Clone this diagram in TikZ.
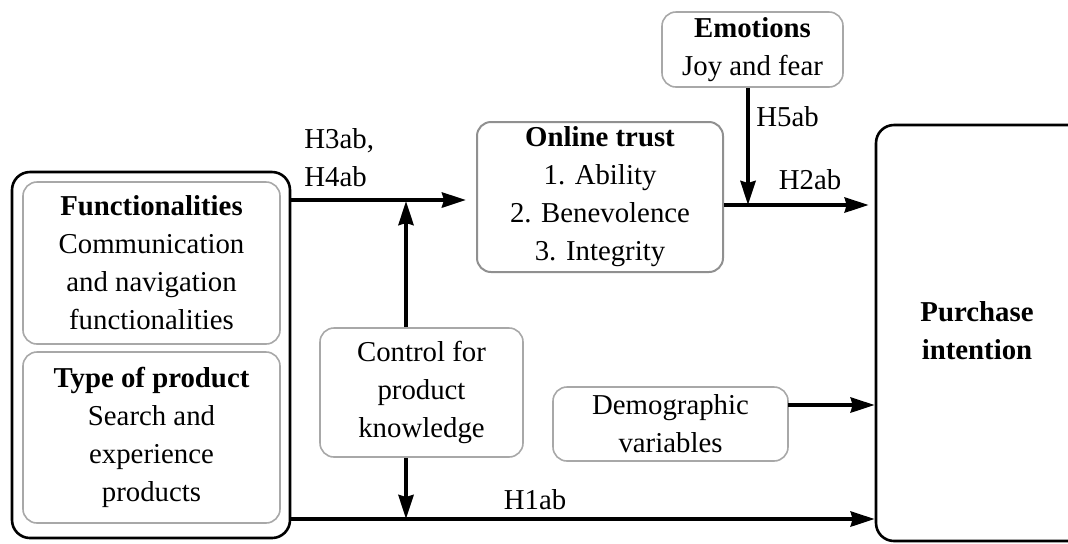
\documentclass[tikz,border=0pt]{standalone}
\usepackage{fontspec}
\setmainfont{Liberation Serif}
\usetikzlibrary{arrows.meta}
\definecolor{boxgray}{HTML}{A8A8A8}
\definecolor{trustgray}{HTML}{909090}
\begin{document}
\begin{tikzpicture}[x=0.5pt,y=-0.5pt,font=\fontsize{14.4}{19}\selectfont,
  box/.style={draw=boxgray,line width=0.8pt,rounded corners=7pt,align=center,inner sep=0pt},
  mainbox/.style={draw=black,line width=1.3pt,rounded corners=9pt,inner sep=0pt},
  arr/.style={line width=2pt,-{Stealth[length=12pt,width=7.5pt,inset=1pt]}}]
  \useasboundingbox (0,0) rectangle (1068,543);
  % boxes
  \node[mainbox,minimum width=139pt,minimum height=183pt] (inputs) at (151,355) {};
  \node[box,minimum width=128.5pt,minimum height=81pt] (func) at (151.5,263)
    {\textbf{Functionalities}\\Communication\\and navigation\\functionalities};
  \node[box,minimum width=128.5pt,minimum height=85.5pt] (prod) at (151.5,437.5)
    {\textbf{Type of product}\\Search and\\experience\\products};
  \node[box,draw=trustgray,line width=1pt,minimum width=123pt,minimum height=75pt] (trust) at (600,197)
    {\textbf{Online trust}\\1. Ability\\2. Benevolence\\3. Integrity};
  \node[box,minimum width=90.5pt,minimum height=37.5pt] (emo) at (752.5,49.5)
    {\textbf{Emotions}\\Joy and fear};
  \node[box,minimum width=101.5pt,minimum height=64.5pt] (ctrl) at (421.5,392.5)
    {Control for\\product\\knowledge};
  \node[box,minimum width=117.5pt,minimum height=37pt] (demo) at (670.5,424)
    {Demographic\\variables};
  \node[mainbox,minimum width=130pt,minimum height=208pt] (purch) at (1006,333) {};
  \node[align=center,font=\fontsize{14.4}{19}\selectfont\bfseries] (purchtxt) at (977,331) {Purchase\\intention};
  % junctions
  \coordinate (h3) at (466,200);
  \coordinate (ctrlup) at (406,201);
  \coordinate (ctrldn) at (406,519);
  \coordinate (h2) at (748,205);
  \coordinate (dm) at (788,405);
  % connectors
  \draw[arr] (inputs.east |- h3) -- (h3);
  \draw[arr] (ctrlup |- ctrl.north) -- (ctrlup);
  \draw[arr] (ctrldn |- ctrl.south) -- (ctrldn);
  \draw[arr] (inputs.east |- ctrldn) -- (purch.west |- ctrldn);
  \draw[arr,shorten >=3pt] (trust.east |- h2) -- (purch.west |- h2);
  \draw[arr] (emo.south -| h2) -- (h2);
  \draw[arr] (dm) -- (purch.west |- dm);
  % labels
  \node[anchor=west,align=left,inner sep=0pt] (l34) at (304,158) {H3ab,\\H4ab};
  \node[anchor=west,inner sep=0pt] (l5) at (756,117) {H5ab};
  \node (l2) at (810,180) {H2ab};
  \node (l1) at (535,500) {H1ab};
\end{tikzpicture}
\end{document}
